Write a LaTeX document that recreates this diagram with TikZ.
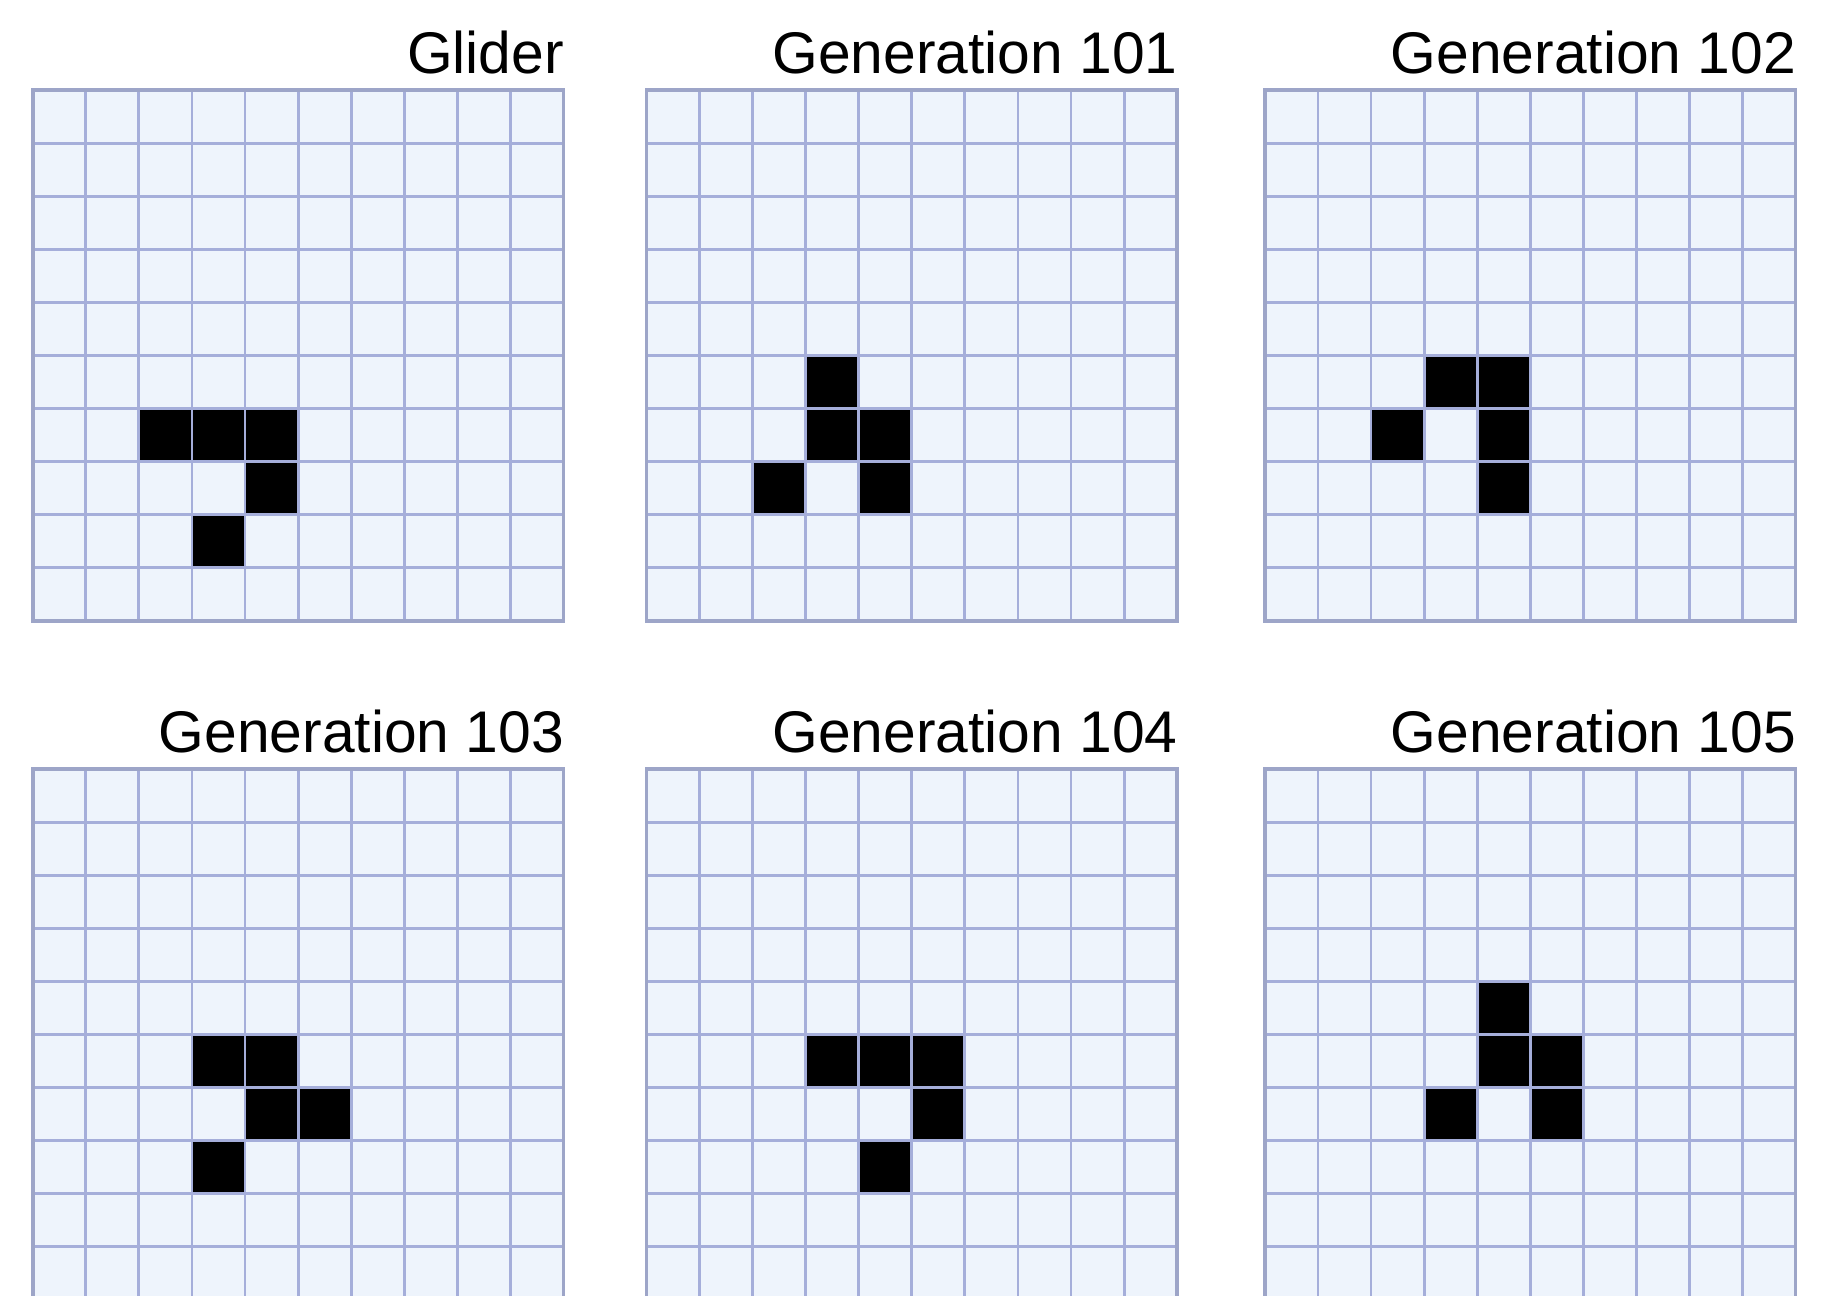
\documentclass[tikz,border=0pt]{standalone}
\usepackage{fontspec}
\setmainfont{Liberation Sans}
\usetikzlibrary{positioning}
\definecolor{boardfill}{RGB}{238,244,252}
\definecolor{boardline}{RGB}{165,174,218}

\begin{document}
\begin{tikzpicture}[
            x=0.1mm, y=-0.1mm,
            board/.style={fill=boardfill},
            alive/.style={fill=black},
            ruling/.style={draw=boardline, line width=0.7pt},
            frame/.style={draw=boardline!80!gray, line width=0.9pt},
            caption/.style={
                anchor=base east,
                inner sep=0pt,
                font=\fontsize{14.3}{16}\selectfont
            }
        ]
            \useasboundingbox (0,0) rectangle (1568,1108);

            % six boards: left, top, name, title, living cells (column/row)
            \foreach \bx/\by/\bname/\btext/\cells in {
                28/77/glider/Glider/{2/6,3/6,4/6,4/7,3/8},
                553/77/genA/Generation 101/{3/5,3/6,4/6,2/7,4/7},
                1082/77/genB/Generation 102/{3/5,4/5,2/6,4/6,4/7},
                28/658/genC/Generation 103/{3/5,4/5,4/6,5/6,3/7},
                553/658/genD/Generation 104/{3/5,4/5,5/5,5/6,4/7},
                1082/658/genE/Generation 105/{4/4,4/5,5/5,3/6,5/6}%
            }{
                \fill[board] (\bx,\by) rectangle ++(454,454);
                \foreach \c/\r in \cells {
                    \fill[alive] (\bx+\c*45.4,\by+\r*45.4) rectangle ++(45.4,45.4);
                }
                \foreach \i in {1,...,9} {
                    \draw[ruling] (\bx+\i*45.4,\by) -- ++(0,454);
                    \draw[ruling] (\bx,\by+\i*45.4) -- ++(454,0);
                }
                \draw[frame] (\bx,\by) rectangle ++(454,454);
                \node[caption] (title-\bname) at (\bx+455,\by-14) {\btext};
            }
        \end{tikzpicture}
\end{document}
